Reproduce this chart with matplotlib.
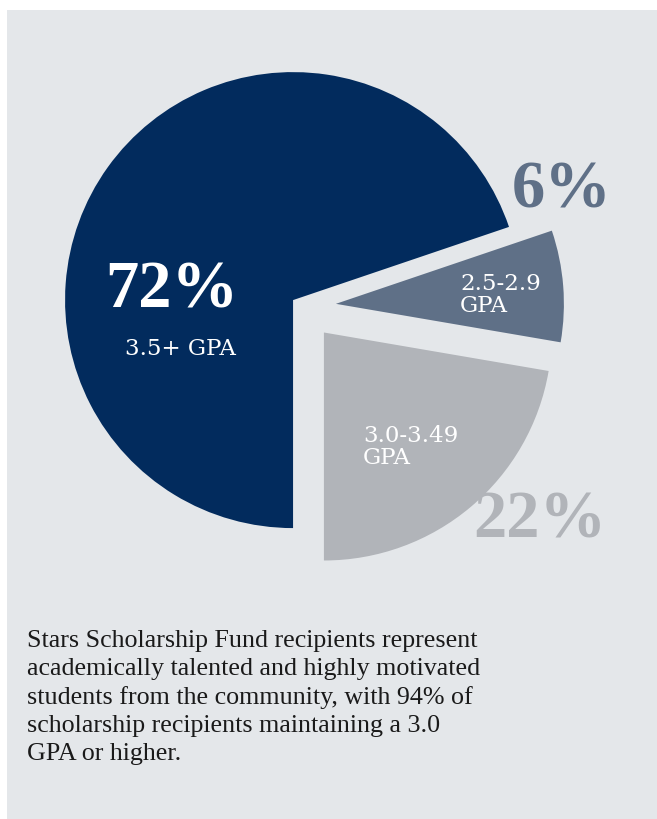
import matplotlib.pyplot as plt
from matplotlib.patches import Rectangle

# printed shares and the wedge sizes as they are drawn in the graphic
gpa_groups = ["3.5+ GPA", "2.5-2.9\nGPA", "3.0-3.49\nGPA"]
gpa_pct = [72, 6, 22]
wedge_pct = [69.8, 7.9, 22.3]
wedge_colors = ["#022b5d", "#5f7087", "#b1b4b9"]

caption_lines = [
    "Stars Scholarship Fund recipients represent",
    "academically talented and highly motivated",
    "students from the community, with 94% of",
    "scholarship recipients maintaining a 3.0",
    "GPA or higher.",
]

W, H = 657, 819
SERIF = ["Liberation Serif", "DejaVu Serif"]
LABEL_SERIF = ["DejaVu Serif"]

fig = plt.figure(figsize=(W / 100, H / 100), dpi=100, facecolor="white")
ax = fig.add_axes([0, 0, 1, 1])

# pixel coordinates, y up
ax.add_patch(Rectangle((7, 0), W - 7, H - 10, facecolor="#e4e7ea",
                       edgecolor="none", zorder=0))

# explode is in data units here (pixels), not a fraction of the radius
ax.pie(
    wedge_pct,
    colors=wedge_colors,
    startangle=270,
    counterclock=False,
    explode=[11, 34, 34],
    center=(302, H - 306.5),
    radius=228,
    wedgeprops=dict(linewidth=0),
    frame=False,
)
ax.set_xlim(0, W)
ax.set_ylim(0, H)
ax.set_aspect("auto")
ax.axis("off")

big = dict(family=SERIF, fontweight="bold", fontsize=48, ha="center", va="baseline")
ax.text(172, H - 307, f"{gpa_pct[0]}%", color="white", **big)
ax.text(562, H - 207, f"{gpa_pct[1]}%", color=wedge_colors[1], **big)
ax.text(540, H - 537, f"{gpa_pct[2]}%", color=wedge_colors[2], **big)

ax.text(180, H - 355, gpa_groups[0], color="white", family=LABEL_SERIF,
        fontsize=16.5, ha="center", va="baseline")
for (x, y), lab in zip([(460, 290), (363, 442)], gpa_groups[1:]):
    first, second = lab.split("\n")
    ax.text(x, H - y, first, color="white", family=LABEL_SERIF, fontsize=16.5,
            ha="left", va="baseline")
    ax.text(x, H - y - 22, second, color="white", family=LABEL_SERIF,
            fontsize=16.5, ha="left", va="baseline")

for i, line in enumerate(caption_lines):
    ax.text(27, H - 647 - i * 28.3, line, color="#1a1a1a", family=SERIF,
            fontsize=18.7, ha="left", va="baseline")

fig.savefig("out.png", dpi=100, facecolor="white")
